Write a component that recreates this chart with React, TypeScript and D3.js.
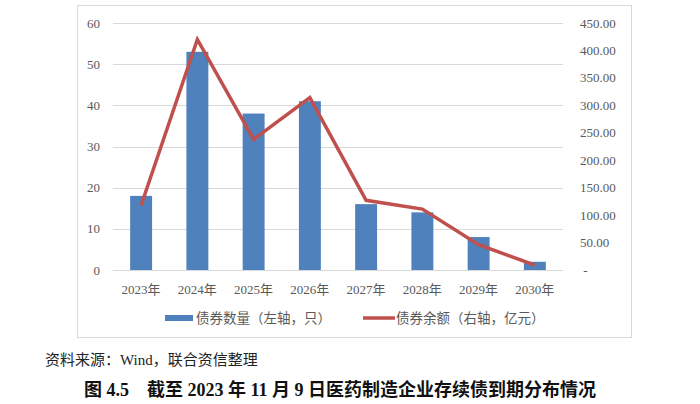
import React from "react";
import * as d3 from "d3";

const categories = ["2023年", "2024年", "2025年", "2026年", "2027年", "2028年", "2029年", "2030年"];
const bondCount = [18, 53, 38, 41, 16, 14, 8, 2];
const bondBalance = [118, 420, 238, 314, 127, 111, 46, 9];
const leftTicks = [0, 10, 20, 30, 40, 50, 60];
const rightTicks = [0, 50, 100, 150, 200, 250, 300, 350, 400, 450];

const W = 700;
const H = 404;
const plot = { left: 113, right: 563, top: 23, bottom: 270 };

const serif = "'Liberation Serif', 'Times New Roman', 'Noto Sans CJK SC', serif";
const axisGray = "#595959";

const App = () => {
  const x = d3
    .scaleBand<string>()
    .domain(categories)
    .range([plot.left, plot.right])
    .paddingInner(0.61)
    .paddingOuter(0.305);

  const yLeft = d3.scaleLinear().domain([0, 60]).range([plot.bottom, plot.top]);
  const yRight = d3.scaleLinear().domain([0, 450]).range([plot.bottom, plot.top]);

  const line = d3
    .line<number>()
    .x((d, i) => (x(categories[i]) as number) + x.bandwidth() / 2)
    .y(d => yRight(d));

  const fmtRight = (v: number) => (v === 0 ? " -" : d3.format(".2f")(v));

  return (
    <svg
      width={W}
      height={H}
      style={{ position: "absolute", left: 0, top: 0, background: "#fff" }}
    >
      {/* chart frame */}
      <rect x={77.5} y={5.5} width={554} height={332} fill="#fff" stroke="#d9d9d9" />

      {/* gridlines */}
      {leftTicks.map(t => (
        <line
          key={"g" + t}
          x1={plot.left}
          x2={plot.right}
          y1={Math.round(yLeft(t)) + 0.5}
          y2={Math.round(yLeft(t)) + 0.5}
          stroke="#d9d9d9"
          strokeWidth={1}
        />
      ))}

      {/* left axis labels */}
      {leftTicks.map(t => (
        <text
          key={"l" + t}
          x={100}
          y={yLeft(t)}
          dy="0.35em"
          textAnchor="end"
          fontFamily={serif}
          fontSize={13}
          fill={axisGray}
        >
          {t}
        </text>
      ))}

      {/* right axis labels */}
      {rightTicks.map(t => (
        <text
          key={"r" + t}
          x={580}
          y={yRight(t)}
          dy="0.35em"
          textAnchor="start"
          fontFamily={serif}
          fontSize={13}
          fill={axisGray}
          style={{ whiteSpace: "pre" }}
        >
          {fmtRight(t)}
        </text>
      ))}

      {/* bars */}
      {bondCount.map((v, i) => (
        <rect
          key={"b" + i}
          x={x(categories[i])}
          y={yLeft(v)}
          width={x.bandwidth()}
          height={yLeft(0) - yLeft(v)}
          fill="#4f81bd"
        />
      ))}

      {/* balance line */}
      <path
        d={line(bondBalance) || ""}
        fill="none"
        stroke="#c0504d"
        strokeWidth={3.5}
        strokeLinejoin="miter"
      />

      {/* category labels */}
      {categories.map(c => (
        <text
          key={"c" + c}
          x={(x(c) as number) + x.bandwidth() / 2}
          y={289}
          dy="0.35em"
          textAnchor="middle"
          fontFamily={serif}
          fontSize={13}
          fill={axisGray}
        >
          {c}
        </text>
      ))}

      {/* legend */}
      <rect x={165} y={315} width={28} height={6} fill="#4f81bd" />
      <text x={196} y={318} dy="0.35em" fontFamily={serif} fontSize={13.5} fill={axisGray}>
        债券数量（左轴，只）
      </text>
      <line x1={363} x2={395} y1={318} y2={318} stroke="#c0504d" strokeWidth={3.5} />
      <text x={396} y={318} dy="0.35em" fontFamily={serif} fontSize={13.5} fill={axisGray}>
        债券余额（右轴，亿元）
      </text>

      {/* source + caption */}
      <text x={45} y={360} dy="0.35em" fontFamily={serif} fontSize={15} fill="#222">
        资料来源：Wind，联合资信整理
      </text>
      <text
        x={340}
        y={390}
        dy="0.35em"
        textAnchor="middle"
        fontFamily={serif}
        fontSize={18}
        fontWeight="bold"
        fill="#111"
        style={{ whiteSpace: "pre" }}
      >
        {"图 4.5    截至 2023 年 11 月 9 日医药制造企业存续债到期分布情况"}
      </text>
    </svg>
  );
};

export default App;
